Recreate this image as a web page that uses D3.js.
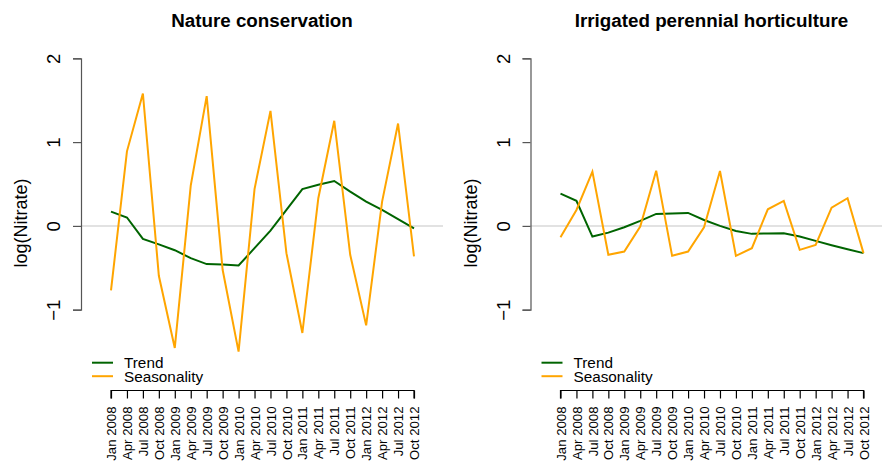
<!DOCTYPE html>
<html>
<head>
<meta charset="utf-8">
<script src="https://cdnjs.cloudflare.com/ajax/libs/d3/7.8.5/d3.min.js"></script>
<style>
  html, body { margin: 0; padding: 0; background: #fff; }
  svg { display: block; font-family: "Liberation Sans", Arial, sans-serif; }
</style>
</head>
<body>
<div id="container"></div>
<script>
let months = ['Jan 2008','Apr 2008','Jul 2008','Oct 2008','Jan 2009','Apr 2009','Jul 2009','Oct 2009',
              'Jan 2010','Apr 2010','Jul 2010','Oct 2010','Jan 2011','Apr 2011','Jul 2011','Oct 2011',
              'Jan 2012','Apr 2012','Jul 2012','Oct 2012'];
let yTicks = [-1, 0, 1, 2];
let panelTitles = ['Nature conservation', 'Irrigated perennial horticulture'];
let seriesNames = ['Trend', 'Seasonality'];

let natureTrend = [0.17, 0.10, -0.155, -0.22, -0.29, -0.385, -0.456, -0.46, -0.472, -0.266,
                   -0.056, 0.19, 0.44, 0.49, 0.536, 0.41, 0.29, 0.19, 0.08, -0.03];
let natureSeason = [-0.77, 0.89, 1.58, -0.595, -1.456, 0.48, 1.548, -0.524, -1.50, 0.44,
                    1.373, -0.325, -1.278, 0.33, 1.254, -0.345, -1.187, 0.29, 1.222, -0.365];
let hortTrend = [0.385, 0.30, -0.127, -0.08, -0.016, 0.06, 0.143, 0.147, 0.155, 0.071,
                 0.0, -0.06, -0.095, -0.09, -0.087, -0.127, -0.179, -0.23, -0.278, -0.325];
let hortSeason = [-0.135, 0.19, 0.647, -0.345, -0.306, -0.008, 0.659, -0.357, -0.306, -0.016,
                  0.655, -0.357, -0.266, 0.198, 0.298, -0.286, -0.226, 0.218, 0.33, -0.325];

let colors = ['#006400', '#FFA500'];

let w = 882,
    h = 463;

let viz = d3.select('#container')
    .append('svg')
      .attr('width', w)
      .attr('height', h)
      .style('background', '#ffffff');

function panel(offset, title, trend, season) {
    let g = viz.append('g').attr('transform', 'translate(' + offset + ',0)');

    let x = d3.scalePoint().domain(months).range([111, 414]);
    let y = d3.scaleLinear().domain([-1, 2]).range([309.7, 58.3]);

    // plot title
    g.append('text')
        .attr('x', 262)
        .attr('y', 27)
        .attr('text-anchor', 'middle')
        .attr('font-size', 18.8)
        .attr('font-weight', 'bold')
        .text(title);

    // zero reference line
    g.append('line')
        .attr('x1', 81).attr('x2', 443)
        .attr('y1', y(0)).attr('y2', y(0))
        .attr('stroke', '#d9d9d9')
        .attr('stroke-width', 1.5);

    // y axis
    let yAxis = g.append('g')
        .attr('transform', 'translate(81,0)')
        .call(d3.axisLeft(y).tickValues(yTicks).tickSize(8).tickFormat(d => d < 0 ? '\u2212' + Math.abs(d) : d));
    yAxis.select('.domain').attr('stroke', '#555').attr('stroke-width', 1.2);
    yAxis.selectAll('.tick line').attr('stroke', '#555').attr('stroke-width', 1.2);
    yAxis.selectAll('.tick text')
        .attr('font-size', 18.5)
        .attr('fill', '#000')
        .attr('text-anchor', 'middle')
        .attr('x', 0).attr('dy', 0)
        .attr('transform', 'translate(-21,0) rotate(-90)');

    g.append('text')
        .attr('transform', 'translate(27,223) rotate(-90)')
        .attr('text-anchor', 'middle')
        .attr('font-size', 18)
        .text('log(Nitrate)');

    // x axis
    let xAxis = g.append('g')
        .attr('transform', 'translate(0,390.5)')
        .call(d3.axisBottom(x).tickSize(8).tickSizeOuter(0));
    xAxis.select('.domain').attr('stroke', '#000').attr('stroke-width', 1.2)
        .attr('d', 'M111,8V0H414V8');
    xAxis.selectAll('.tick line').attr('stroke', '#000').attr('stroke-width', 1.2);
    xAxis.selectAll('.tick text')
        .attr('font-size', 13.2)
        .attr('fill', '#000')
        .attr('text-anchor', 'end')
        .attr('x', 0).attr('y', 0).attr('dy', '0.35em')
        .attr('transform', 'translate(0,16) rotate(-90)');

    // lines
    let line = d3.line()
        .x((d, i) => x(months[i]))
        .y(d => y(d));

    [trend, season].forEach((s, k) => {
        g.append('path')
            .datum(s)
            .attr('d', line)
            .attr('fill', 'none')
            .attr('stroke', colors[k])
            .attr('stroke-width', 2);
    });

    // legend
    let leg = g.append('g');
    seriesNames.forEach((n, k) => {
        let ly = 362.7 + k * 13.5;
        leg.append('line')
            .attr('x1', 92).attr('x2', 113)
            .attr('y1', ly).attr('y2', ly)
            .attr('stroke', colors[k])
            .attr('stroke-width', 2);
        leg.append('text')
            .attr('x', 124)
            .attr('y', ly)
            .attr('dy', '0.35em')
            .attr('font-size', 15.3)
            .text(n);
    });
}

function main() {
    panel(0, panelTitles[0], natureTrend, natureSeason);
    panel(449.5, panelTitles[1], hortTrend, hortSeason);
}

main();
</script>
</body>
</html>
